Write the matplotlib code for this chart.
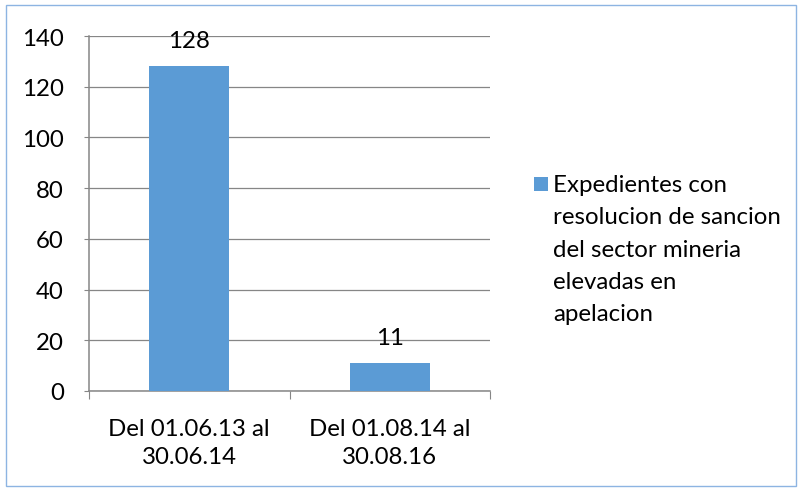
import matplotlib.pyplot as plt
from matplotlib.patches import Rectangle

plt.rcParams['font.family'] = ['Lato', 'DejaVu Sans']

categories = ['Del 01.06.13 al\n30.06.14', 'Del 01.08.14 al\n30.08.16']
values = [128, 11]
serie = ['Expedientes con', 'resolucion de sancion', 'del sector mineria', 'elevadas en', 'apelacion']
color = '#5B9BD5'
fs = 17.3

W, H = 799, 489
fig = plt.figure(figsize=(W / 100, H / 100), dpi=100)
fig.patches.append(Rectangle((6 / W, 2 / H), 790 / W, 481 / H, transform=fig.transFigure,
                             fill=False, edgecolor='#8DB4E2', linewidth=1))

ax = fig.add_axes((89 / W, 1 - 392 / H, 401 / W, 355 / H))
x = [0, 1]
ax.bar(x, values, width=0.4, color=color, zorder=3)
ax.set_xlim(-0.5, 1.5)
ax.set_ylim(0, 140)
ax.set_yticks(range(0, 141, 20))
ax.grid(axis='y', color='#868686', linewidth=0.9, zorder=0)
for sp in ['top', 'right']:
    ax.spines[sp].set_visible(False)
for sp in ['left', 'bottom']:
    ax.spines[sp].set_color('#868686')
    ax.spines[sp].set_linewidth(1.1)
ax.tick_params(axis='y', length=3.6, color='#868686', labelsize=fs, pad=14.5)
ax.set_xticks([-0.5, 0.5, 1.5])
ax.set_xticklabels([])
ax.tick_params(axis='x', which='major', length=5.8, color='#868686')
ax.set_xticks(x, minor=True)
ax.set_xticklabels(categories, minor=True, linespacing=1.4)
ax.tick_params(axis='x', which='minor', length=0, labelsize=fs, pad=19.5)
for xi, v in zip(x, values):
    ax.annotate(str(v), (xi, v), xytext=(0, 19), textcoords='offset pixels',
                ha='center', va='baseline', fontsize=fs)

fig.patches.append(Rectangle((534 / W, 1 - 192 / H), 14 / W, 14 / H, transform=fig.transFigure,
                             facecolor=color, edgecolor='none'))
for i, line in enumerate(serie):
    fig.text(553 / W, 1 - (192 + 32.3 * i) / H, line, ha='left', va='baseline', fontsize=fs)

fig.savefig('out.png', dpi=100)
